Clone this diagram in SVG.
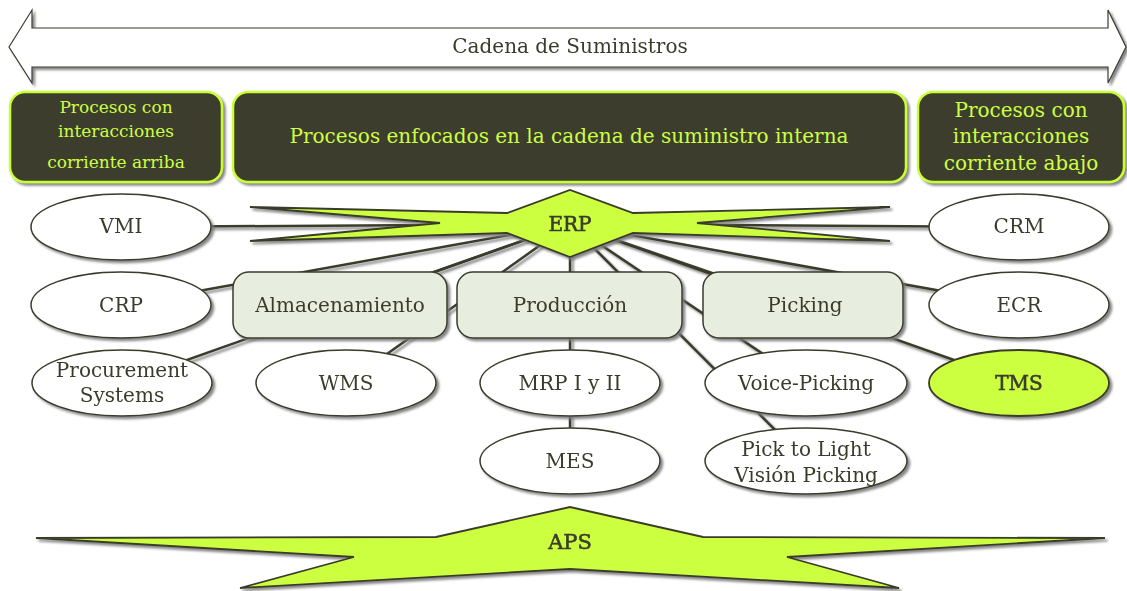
<svg xmlns="http://www.w3.org/2000/svg" width="1127" height="591" viewBox="0 0 1127 591">
<defs>
<filter id="sh" x="-5%" y="-5%" width="115%" height="130%">
<feDropShadow dx="2.5" dy="2.5" stdDeviation="0.9" flood-color="#7a7a7a" flood-opacity="0.9"/>
</filter>
<style>
text{font-family:"DejaVu Serif","Liberation Serif",serif;fill:#3b3b2b;text-anchor:middle}
.hdr rect{fill:#3e3e2e;stroke:#ccff33;stroke-width:2.5}
.hdr text{fill:#ccff44}
.ell{fill:#ffffff;stroke:#3b3b2b;stroke-width:1.5}
.lime{fill:#ccff40;stroke:#3b3b2b;stroke-width:1.8}
.box{fill:#e8eedf;stroke:#3b3b2b;stroke-width:1.5}
.conn line{stroke:#3b3b2b;stroke-width:2.5}
.n{font-size:20px}
.hv{stroke:#3b3b2b;stroke-width:0.6}
</style>
</defs>
<rect width="1127" height="591" fill="#ffffff"/>

<g id="cadena" filter="url(#sh)">
<polygon points="9,47 32,10 32,28 1108,28 1108,10 1126,47 1108,83 1108,67 32,67 32,83" fill="#ffffff" stroke="#3b3b2b" stroke-width="1.2"/>
<text x="570" y="53" font-size="20">Cadena de Suministros</text>
</g>

<g id="hdr-arriba" class="hdr">
<rect x="10" y="92" width="212" height="90" rx="15" filter="url(#sh)"/>
<text x="116" y="113" font-size="17">Procesos con</text>
<text x="116" y="137" font-size="17">interacciones</text>
<text x="116" y="168" font-size="17">corriente arriba</text>
</g>
<g id="hdr-interna" class="hdr">
<rect x="233" y="92" width="673" height="90" rx="15" filter="url(#sh)"/>
<text x="569" y="143" font-size="20">Procesos enfocados en la cadena de suministro interna</text>
</g>
<g id="hdr-abajo" class="hdr">
<rect x="918" y="92" width="206" height="90" rx="15" filter="url(#sh)"/>
<text x="1021" y="117" font-size="20">Procesos con</text>
<text x="1021" y="143" font-size="20">interacciones</text>
<text x="1021" y="170" font-size="20">corriente abajo</text>
</g>

<g id="connectors" class="conn" filter="url(#sh)">
<line x1="570" y1="224" x2="121" y2="227"/>
<line x1="570" y1="224" x2="1019" y2="227"/>
<line x1="570" y1="224" x2="121" y2="305"/>
<line x1="570" y1="224" x2="1019" y2="305"/>
<line x1="570" y1="224" x2="340" y2="305"/>
<line x1="570" y1="224" x2="805" y2="305"/>
<line x1="570" y1="224" x2="122" y2="383"/>
<line x1="570" y1="224" x2="346" y2="383"/>
<line x1="570" y1="224" x2="570" y2="461"/>
<line x1="570" y1="224" x2="806" y2="383"/>
<line x1="570" y1="224" x2="806" y2="461"/>
<line x1="570" y1="224" x2="1019" y2="383"/>
</g>

<g id="erp" filter="url(#sh)">
<polygon class="lime" points="250,207 507,213 570,190 633,213 890,207 697,223 890,241 633,233 570,257 507,233 250,241 440,223"/>
<text x="570" y="231" class="n hv">ERP</text>
</g>

<g id="vmi" filter="url(#sh)"><ellipse class="ell" cx="121" cy="227" rx="90" ry="33"/><text x="121" y="233" class="n">VMI</text></g>
<g id="crp" filter="url(#sh)"><ellipse class="ell" cx="121" cy="305" rx="90" ry="33"/><text x="121" y="312" class="n">CRP</text></g>
<g id="procurement" filter="url(#sh)"><ellipse class="ell" cx="122" cy="383" rx="90" ry="33"/><text x="122" y="377" class="n">Procurement</text><text x="122" y="402" class="n">Systems</text></g>
<g id="crm" filter="url(#sh)"><ellipse class="ell" cx="1019" cy="227" rx="90" ry="33"/><text x="1019" y="233" class="n">CRM</text></g>
<g id="ecr" filter="url(#sh)"><ellipse class="ell" cx="1019" cy="305" rx="90" ry="33"/><text x="1019" y="312" class="n">ECR</text></g>
<g id="tms" filter="url(#sh)"><ellipse class="lime" cx="1019" cy="383" rx="90" ry="33"/><text x="1019" y="390" class="n hv">TMS</text></g>

<g id="almacenamiento" filter="url(#sh)"><rect class="box" x="233" y="272" width="214" height="66" rx="16"/><text x="340" y="312" class="n">Almacenamiento</text></g>
<g id="produccion" filter="url(#sh)"><rect class="box" x="457" y="272" width="225" height="66" rx="16"/><text x="570" y="312" class="n">Producción</text></g>
<g id="picking" filter="url(#sh)"><rect class="box" x="703" y="272" width="200" height="66" rx="16"/><text x="805" y="312" class="n">Picking</text></g>

<g id="wms" filter="url(#sh)"><ellipse class="ell" cx="346" cy="383" rx="90" ry="33"/><text x="346" y="390" class="n">WMS</text></g>
<g id="mrp" filter="url(#sh)"><ellipse class="ell" cx="570" cy="383" rx="90" ry="33"/><text x="570" y="390" class="n">MRP I y II</text></g>
<g id="mes" filter="url(#sh)"><ellipse class="ell" cx="570" cy="461" rx="90" ry="33"/><text x="570" y="468" class="n">MES</text></g>
<g id="voice" filter="url(#sh)"><ellipse class="ell" cx="806" cy="383" rx="101" ry="33"/><text x="806" y="390" class="n">Voice-Picking</text></g>
<g id="pick-light" filter="url(#sh)"><ellipse class="ell" cx="806" cy="461" rx="101" ry="33"/><text x="806" y="456" class="n">Pick to Light</text><text x="806" y="482" class="n">Visión Picking</text></g>

<g id="aps" filter="url(#sh)">
<polygon class="lime" points="36,538 436,537 570,507 703,537 1105,538 787,557 899,588 570,569 240,588 354,557"/>
<text x="570" y="549" font-size="21" class="hv">APS</text>
</g>
</svg>
